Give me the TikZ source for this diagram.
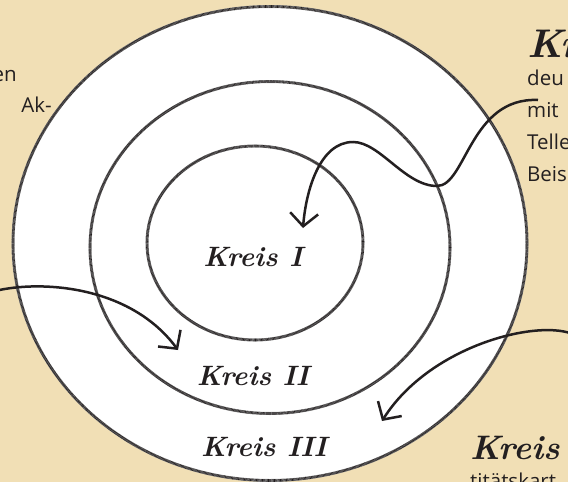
\documentclass[tikz,border=0pt]{standalone}
\usepackage{fontspec}
\setsansfont{Open Sans}
\usetikzlibrary{arrows.meta}
\definecolor{bg}{HTML}{F1DFB5}
\definecolor{ink}{HTML}{231F20}
\begin{document}
\begin{tikzpicture}[x=1pt,y=-1pt,
  ringline/.style={draw=ink, line width=2.6pt, dash pattern=on 0.6pt off 0.6pt,
    preaction={draw=black!40, line width=3pt, solid}},
  conn/.style={draw=ink, line width=2.5pt, -{Straight Barb[length=13pt,width=28pt]}},
  lbl/.style={font=\fontsize{28}{30}\selectfont\bfseries\itshape, text=ink, inner sep=0pt},
  body/.style={font=\sffamily\fontsize{20.5}{24}\selectfont, text=ink, inner sep=0pt}]
\useasboundingbox (0,0) rectangle (568,482);
\clip (0,0) rectangle (568,482);
\fill[bg] (0,0) rectangle (568,482);

% rings
\fill[white] (270,243.5) ellipse [x radius=257pt, y radius=237pt];
\draw[ringline] (270,243.5) ellipse [x radius=257pt, y radius=237pt];
\draw[ringline] (270,247.5) ellipse [x radius=180pt, y radius=166pt];
\draw[ringline] (255,243) ellipse [x radius=108pt, y radius=97pt];

% ring labels
\node[lbl, anchor=base] (k1) at (253,266) {Kreis I};
\node[lbl, anchor=base] (k2) at (253,385) {Kreis II};
\node[lbl, anchor=base] (k3) at (264,456) {Kreis III};

% side texts
\node[body, anchor=base east] (l1) at (17,81) {en};
\node[body, anchor=base east] (l2) at (52,112) {Ak-};

\node[lbl, font=\fontsize{40}{44}\selectfont\bfseries\itshape, anchor=base west] (h1) at (527,57) {Kreis};
\node[body, anchor=base west] (r1) at (527,85) {deu};
\node[body, anchor=base west] (r2) at (527,117) {mit};
\node[body, anchor=base west] (r3) at (527,149) {Telle};
\node[body, anchor=base west] (r4) at (527,181) {Beis};

\node[lbl, font=\fontsize{34}{38}\selectfont\bfseries\itshape, anchor=base west] (h2) at (470,459) {Kreis};
\node[body, anchor=base west] (b1) at (470,488) {titätskart};

% connectors
\coordinate (a1s) at (538,100);
\coordinate (a1e) at (303,228);
\draw[conn] (a1s) .. controls (470,97) and (466,186) .. (437,186)
  .. controls (405,186) and (380,142) .. (353,142)
  .. controls (320,142) and (306,190) .. (a1e);

\coordinate (a2s) at (-5,291);
\coordinate (a2e) at (178,350);
\draw[conn] (a2s) .. controls (40,280) and (130,285) .. (a2e);

\coordinate (a3s) at (575,335);
\coordinate (a3e) at (382,421);
\draw[conn] (a3s) .. controls (540,318) and (430,345) .. (a3e);
\end{tikzpicture}
\end{document}
